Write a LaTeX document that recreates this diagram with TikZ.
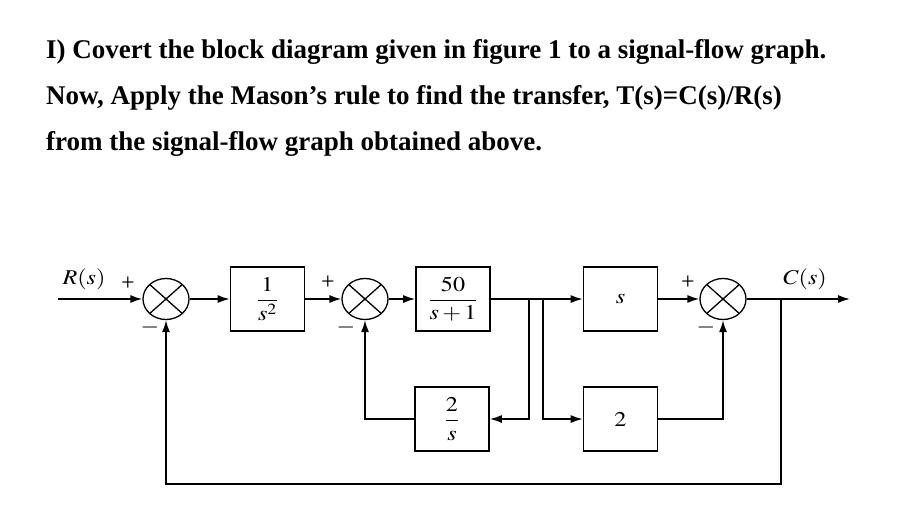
\documentclass[tikz,border=0pt]{standalone}
\usepackage{mathptmx}
\usepackage[no-math]{fontspec}
\setmainfont{Liberation Serif}
\usepackage{graphicx}
\usetikzlibrary{arrows.meta,shapes.geometric,calc}
\newcommand{\dfont}{\fontsize{21}{23}\selectfont}
\newcommand{\hfont}{\fontsize{27}{30}\selectfont\bfseries}
\newcommand{\hstr}[1]{\scalebox{1.15}[1]{#1}}
\tikzset{
  blk/.style={draw, line width=1.6pt, minimum width=74pt, minimum height=64pt, inner sep=0pt, font=\dfont},
  sumj/.style={draw, ellipse, line width=1.3pt, minimum width=46pt, minimum height=41pt, inner sep=0pt},
  wire/.style={line width=1.6pt},
  arr/.style={wire, -{Latex[length=12pt,width=8pt]}},
  lbl/.style={inner sep=0pt, font=\dfont},
  sgn/.style={inner sep=0pt, font=\fontsize{24}{25}\selectfont},
  head/.style={inner sep=0pt, anchor=base west, font=\hfont},
}
\begin{document}
\begin{tikzpicture}[x=1pt,y=-1pt]
\useasboundingbox (0,0) rectangle (901,525);
% heading
\node[head] (h1) at (46,58) {I) Covert the block diagram given in figure 1 to a signal-flow graph.};
\node[head] (h2) at (46,104) {Now, Apply the Mason’s rule to find the transfer, T(s)=C(s)/R(s)};
\node[head] (h3) at (46,150) {from the signal-flow graph obtained above.};
% summing junctions
\node[sumj] (s1) at (166,299) {};
\node[sumj] (s2) at (365,299) {};
\node[sumj] (s3) at (723,299) {};
\foreach \s in {s1,s2,s3}{
  \draw[line width=1.3pt] ($(\s)+(-16.3,-14.5)$) -- ($(\s)+(16.3,14.5)$);
  \draw[line width=1.3pt] ($(\s)+(-16.3,14.5)$) -- ($(\s)+(16.3,-14.5)$);
}
% blocks
\node[blk] (g1) at (267.5,299) {\hstr{$\displaystyle\frac{1}{s^2}$}};
\node[blk] (g2) at (453,299) {\hstr{$\displaystyle\frac{50}{s+1}$}};
\node[blk] (g3) at (620.5,299) {\hstr{$s$}};
\node[blk] (h1b) at (452,419) {\hstr{$\displaystyle\frac{2}{s}$}};
\node[blk] (h2b) at (620.5,419) {\hstr{$2$}};
% coordinates
\coordinate (in) at (58,299);
\coordinate (out) at (850,299);
\coordinate (j1) at (529,299);
\coordinate (j2) at (543,299);
\coordinate (j3) at (781,299);
\coordinate (bot) at (781,484);
% forward path
\draw[arr] (in) -- (s1);
\draw[arr] (s1) -- (g1);
\draw[arr] (g1) -- (s2);
\draw[arr] (s2) -- (g2);
\draw[arr] (g2) -- (g3);
\draw[arr] (g3) -- (s3);
\draw[arr] (s3) -- (out);
% feedback paths
\draw[arr] (j1) |- (h1b);
\draw[arr] (h1b) -| (s2);
\draw[arr] (j2) |- (h2b);
\draw[arr] (h2b) -| (s3);
\draw[arr] (j3) -- (bot) -| (s1);
% labels
\node[lbl] (lr) at (84,279) {\hstr{$R(s)$}};
\node[lbl] (lc) at (805,279) {\hstr{$C(s)$}};
\node[sgn] (p1) at (128,284) {+};
\node[sgn] (m1) at (150,327) {$-$};
\node[sgn] (p2) at (328,283) {+};
\node[sgn] (m2) at (346,327) {$-$};
\node[sgn] (p3) at (688,283) {+};
\node[sgn] (m3) at (706,327) {$-$};
\end{tikzpicture}
\end{document}
